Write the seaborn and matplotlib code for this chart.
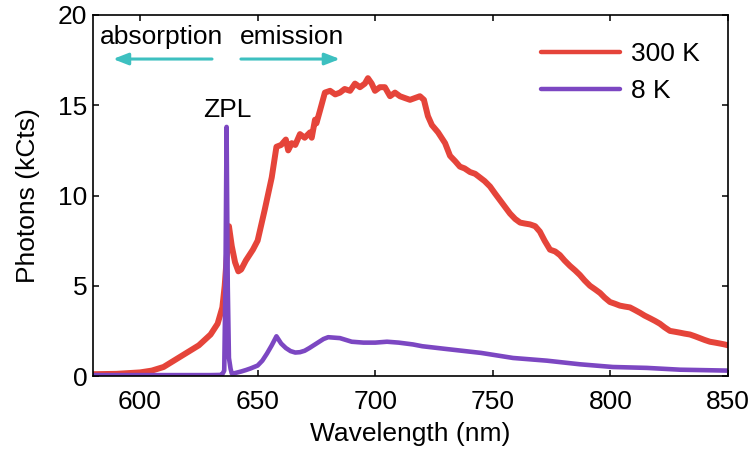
import matplotlib
matplotlib.use("Agg")
import matplotlib.pyplot as plt
import seaborn as sns
import pandas as pd

# 300 K spectrum (wavelength nm, kCts)
wl_300 = [580, 590, 600, 605, 610, 615, 620, 625, 630, 633, 635, 636, 637, 637.8,
          639, 640.4, 641.8, 643, 645, 648, 650, 653, 656, 658, 660, 662, 663, 664.5,
          666, 668, 670, 672.3, 673, 674.4, 675, 676.5, 678.6, 680.8, 683, 685, 687,
          689.3, 691.4, 693.5, 695.6, 696.9, 698.5, 699.9, 702, 704.1, 706.3, 708.4,
          710.5, 712.6, 714.8, 716.9, 719, 720.7, 722.4, 724.1, 726.7, 729.7, 731.8,
          734, 736, 738, 740.3, 742.5, 744.5, 746.5, 748.8, 751, 753, 755, 757.3,
          759.5, 761.6, 763.5, 765.8, 768, 770, 772, 774.3, 776.5, 778.5, 780.5,
          782.8, 785, 787, 789, 791.3, 793.5, 795.6, 797.5, 799.8, 802, 804, 806,
          808.3, 810.5, 812.6, 814.5, 816.8, 819, 821, 823, 825.3, 827.5, 829.6,
          831.5, 833.8, 836, 838, 840, 842.3, 844.5, 846.6, 848.5, 850]
kcts_300 = [0.1, 0.12, 0.2, 0.3, 0.5, 0.9, 1.3, 1.7, 2.3, 2.9, 3.8, 5.0, 6.8, 8.3,
            7.2, 6.3, 5.8, 5.9, 6.4, 7.0, 7.5, 9.2, 11.0, 12.7, 12.8, 13.1, 12.5, 12.9,
            12.8, 13.4, 13.2, 13.5, 13.2, 14.2, 14.0, 14.7, 15.7, 15.8, 15.6, 15.7, 15.9,
            15.8, 16.2, 16.0, 16.2, 16.5, 16.2, 15.8, 16.0, 16.0, 15.5, 15.7,
            15.5, 15.4, 15.3, 15.4, 15.5, 15.3, 14.4, 13.9, 13.5, 12.9, 12.2,
            11.9, 11.6, 11.5, 11.3, 11.2, 11.0, 10.8, 10.5, 10.1, 9.75, 9.4, 9.0,
            8.7, 8.5, 8.45, 8.4, 8.3, 8.0, 7.5, 7.0, 6.9, 6.7, 6.4,
            6.1, 5.85, 5.6, 5.3, 5.0, 4.8, 4.6, 4.35, 4.1, 4.0, 3.9, 3.85,
            3.8, 3.65, 3.5, 3.35, 3.2, 3.05, 2.9, 2.7, 2.5, 2.45, 2.4,
            2.35, 2.3, 2.2, 2.1, 2.0, 1.9, 1.85, 1.8, 1.75, 1.7]

# 8 K spectrum
wl_8 = [580, 600, 620, 630, 634, 635, 635.8, 636.3, 636.8, 637.3, 637.8, 638.5,
        639, 640, 643, 645, 647, 650, 652, 654, 656, 657, 658, 659, 660, 662, 664,
        666, 668, 670, 672, 675, 678, 680, 685, 690, 695, 700, 705, 710, 716, 720,
        730, 745, 758.6, 773, 787, 801, 815.5, 829.6, 850]
kcts_8 = [0.05, 0.05, 0.05, 0.05, 0.06, 0.1, 0.3, 5.0, 13.8, 5.0, 1.0, 0.4,
          0.15, 0.15, 0.25, 0.33, 0.42, 0.58, 0.85, 1.25, 1.7, 1.95, 2.2, 2.0, 1.8,
          1.55, 1.38, 1.3, 1.32, 1.4, 1.55, 1.8, 2.05, 2.15, 2.1, 1.9, 1.85, 1.85,
          1.9, 1.85, 1.75, 1.65, 1.5, 1.28, 1.0, 0.85, 0.65, 0.5, 0.45, 0.35, 0.3]

series_names = ["300 K", "8 K"]
colors = ["#e5443a", "#7c47c2"]
x_ticks = [600, 650, 700, 750, 800, 850]
y_ticks = [0, 5, 10, 15, 20]

sns.set_style("ticks")
plt.rcParams["font.family"] = ["Liberation Sans", "DejaVu Sans"]
plt.rcParams["text.color"] = "black"
plt.rcParams["axes.labelcolor"] = "black"
plt.rcParams["xtick.color"] = "black"
plt.rcParams["ytick.color"] = "black"
FS = 19

fig = plt.figure(figsize=(7.56, 4.5), dpi=100)
ax = fig.add_axes([0.123, 0.1644, 0.840, 0.8023])

df300 = pd.DataFrame({"Wavelength": wl_300, "Photons": kcts_300})
df8 = pd.DataFrame({"Wavelength": wl_8, "Photons": kcts_8})
sns.lineplot(data=df300, x="Wavelength", y="Photons", ax=ax, color=colors[0],
             lw=4.3, label=series_names[0], solid_joinstyle="round")
sns.lineplot(data=df8, x="Wavelength", y="Photons", ax=ax, color=colors[1],
             lw=3.3, label=series_names[1], solid_joinstyle="round")

ax.set_xlim(580, 850)
ax.set_ylim(0, 20)
ax.set_xticks(x_ticks)
ax.set_yticks(y_ticks)
ax.set_xlabel("Wavelength (nm)", fontsize=FS, labelpad=6)
ax.set_ylabel("Photons (kCts)", fontsize=FS, labelpad=13)
ax.tick_params(axis="both", direction="in", length=4, width=1.1, top=True,
               right=True, labelsize=FS)
ax.tick_params(axis="x", pad=10)
ax.tick_params(axis="y", pad=4)
for s in ax.spines.values():
    s.set_linewidth(1.2)
    s.set_color("black")

leg = ax.legend(loc="upper right", frameon=False, fontsize=FS,
                handlelength=3.0, labelspacing=0.5, handletextpad=0.4,
                borderaxespad=0.0, borderpad=0.4, bbox_to_anchor=(0.972, 0.955))
for line in leg.get_lines():
    line.set_linewidth(3.2)

cyan = "#3dc0c0"
ax.annotate("", xy=(588.5, 17.56), xytext=(630.6, 17.56),
            arrowprops=dict(arrowstyle="-|>,head_length=0.9,head_width=0.35",
                            color=cyan, lw=2.2, shrinkA=0, shrinkB=0))
ax.annotate("", xy=(685, 17.56), xytext=(642.9, 17.56),
            arrowprops=dict(arrowstyle="-|>,head_length=0.9,head_width=0.35",
                            color=cyan, lw=2.2, shrinkA=0, shrinkB=0))
ax.text(609.2, 18.8, "absorption", ha="center", va="center", fontsize=FS)
ax.text(664.5, 18.8, "emission", ha="center", va="center", fontsize=FS)
ax.text(637.2, 14.74, "ZPL", ha="center", va="center", fontsize=FS)

fig.savefig("out.png", dpi=100)
